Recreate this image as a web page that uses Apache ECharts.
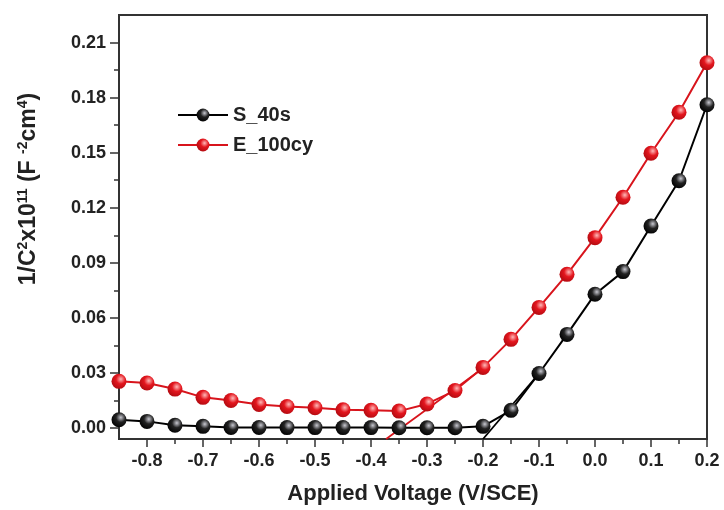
<!DOCTYPE html>
<html>
<head>
<meta charset="utf-8">
<script src="https://cdn.jsdelivr.net/npm/echarts@6/dist/echarts.min.js"></script>
<style>
  html, body { margin: 0; padding: 0; background: #fff; }
  #chart { width: 724px; height: 510px; }
</style>
</head>
<body>
<div id="chart"></div>
<script>
// applied voltage (V/SCE)
var voltage = [-0.85, -0.8, -0.75, -0.7, -0.65, -0.6, -0.55, -0.5, -0.45, -0.4, -0.35,
  -0.3, -0.25, -0.2, -0.15, -0.1, -0.05, 0.0, 0.05, 0.1, 0.15, 0.2];
var s40s = [0.0045, 0.0036, 0.0015, 0.0009, 0.0003, 0.0003, 0.0002, 0.0002, 0.0002, 0.0002, 0.0001,
  0.0001, 0.0001, 0.0009, 0.0096, 0.0297, 0.0510, 0.0729, 0.0852, 0.1100, 0.1347, 0.1761];
var e100cy = [0.0254, 0.0245, 0.0212, 0.0167, 0.0150, 0.0128, 0.0117, 0.0110, 0.0099, 0.0096, 0.0092,
  0.0131, 0.0204, 0.0330, 0.0483, 0.0657, 0.0837, 0.1037, 0.1257, 0.1497, 0.1720, 0.1990];
// linear fit (Mott-Schottky) lines
var fitE = [[-0.373, -0.006], [-0.2, 0.0325]];
var fitS = [[-0.2, -0.006], [-0.1, 0.0297]];

var xTicks = [-0.8, -0.7, -0.6, -0.5, -0.4, -0.3, -0.2, -0.1, 0.0, 0.1, 0.2];
var xMinor = [-0.75, -0.65, -0.55, -0.45, -0.35, -0.25, -0.15, -0.05, 0.05, 0.15];
var yTicks = [0.00, 0.03, 0.06, 0.09, 0.12, 0.15, 0.18, 0.21];
var yMinor = [0.015, 0.045, 0.075, 0.105, 0.135, 0.165, 0.195];

function pairs(xs, ys) {
  return xs.map(function (x, i) { return [x, ys[i]]; });
}

function ball(c1, c2, c3) {
  return {
    type: 'radial', x: 0.62, y: 0.35, r: 0.7,
    colorStops: [{ offset: 0, color: c1 }, { offset: 0.45, color: c2 }, { offset: 1, color: c3 }]
  };
}

var fam = 'Liberation Sans, Arial';
var tickFont = { fontFamily: fam, fontWeight: 'bold', fontSize: 18, color: '#222' };
var axisCol = '#333';

var option = {
  animation: false,
  grid: { left: 119, right: 17, top: 15, bottom: 68, show: true, borderColor: axisCol, borderWidth: 2 },
  legend: {
    data: ['S_40s', 'E_100cy'],
    orient: 'vertical',
    left: 172, top: 100,
    itemWidth: 50, itemHeight: 16, itemGap: 10,
    textStyle: { fontFamily: fam, fontWeight: 'bold', fontSize: 20, color: '#222' }
  },
  xAxis: [{
    type: 'value', min: -0.85, max: 0.2,
    name: 'Applied Voltage (V/SCE)', nameLocation: 'middle', nameGap: 44,
    nameTextStyle: { fontFamily: fam, fontWeight: 'bold', fontSize: 22, color: '#222' },
    axisLine: { onZero: false, lineStyle: { color: axisCol, width: 2 } },
    axisTick: { customValues: xTicks, length: 8, lineStyle: { color: axisCol, width: 1.5 } },
    axisLabel: Object.assign({ customValues: xTicks, margin: 13, formatter: function (v) { return v.toFixed(1); } }, tickFont),
    splitLine: { show: false }
  }, {
    type: 'value', min: -0.85, max: 0.2, position: 'bottom',
    axisLine: { show: false, onZero: false },
    axisTick: { customValues: xMinor, length: 5, lineStyle: { color: axisCol, width: 1.5 } },
    axisLabel: { show: false },
    splitLine: { show: false }
  }],
  yAxis: [{
    type: 'value', min: -0.006, max: 0.225,
    name: '{n|1/C}{s|2}{n|x10}{s|11}{n| (F }{s|-2}{n|cm}{s|4}{n|)}',
    nameLocation: 'middle', nameGap: 78, nameRotate: 90,
    nameTextStyle: {
      padding: [0, 0, 0, 76],
      rich: {
        n: { fontFamily: fam, fontWeight: 'bold', fontSize: 23, color: '#222' },
        s: { fontFamily: fam, fontWeight: 'bold', fontSize: 14, color: '#222', verticalAlign: 'top', padding: [0, 0, 11, 0] }
      }
    },
    axisLine: { show: true, onZero: false, lineStyle: { color: axisCol, width: 2 } },
    axisTick: { customValues: yTicks, length: 9, lineStyle: { color: axisCol, width: 1.5 } },
    axisLabel: Object.assign({ customValues: yTicks, margin: 13, formatter: function (v) { return v.toFixed(2); } }, tickFont),
    splitLine: { show: false }
  }, {
    type: 'value', min: -0.006, max: 0.225, position: 'left',
    axisLine: { show: false, onZero: false },
    axisTick: { show: true, customValues: yMinor, length: 5, lineStyle: { color: axisCol, width: 1.5 } },
    axisLabel: { show: false },
    splitLine: { show: false }
  }],
  series: [{
    name: 'S_40s', type: 'line', data: pairs(voltage, s40s),
    symbol: 'circle', symbolSize: 15,
    lineStyle: { color: '#000', width: 2 },
    itemStyle: { color: ball('#c8c8d0', '#222', '#000'), borderWidth: 0 },
    z: 3
  }, {
    name: 'E_100cy', type: 'line', data: pairs(voltage, e100cy),
    symbol: 'circle', symbolSize: 15,
    lineStyle: { color: '#d8141c', width: 2 },
    itemStyle: { color: ball('#ffb8b8', '#e3161e', '#b00a10'), borderWidth: 0 },
    z: 3
  }, {
    name: 'fitE', type: 'line', data: fitE, symbol: 'none',
    lineStyle: { color: '#d8141c', width: 1.8 }, z: 2
  }, {
    name: 'fitS', type: 'line', data: fitS, symbol: 'none',
    lineStyle: { color: '#000', width: 1.8 }, z: 2
  }]
};

echarts.init(document.getElementById('chart')).setOption(option);
</script>
</body>
</html>
